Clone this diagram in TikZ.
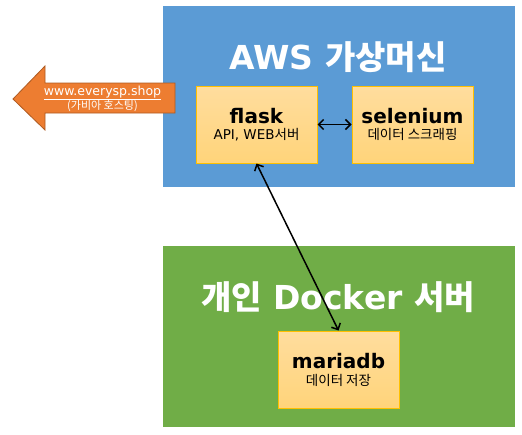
\documentclass[tikz,border=0pt]{standalone}
\usepackage{fontspec}
\setmainfont{DejaVu Sans}
\newfontfamily\kr{Noto Sans CJK KR}
\usetikzlibrary{positioning,arrows.meta}
\definecolor{awsblue}{HTML}{5B9BD5}
\definecolor{dockgreen}{HTML}{70AD47}
\definecolor{webor}{HTML}{ED7D31}
\definecolor{webordark}{HTML}{AE5A21}
\definecolor{boxtop}{HTML}{FFDD9E}
\definecolor{boxbot}{HTML}{FFD47A}
\definecolor{boxline}{HTML}{FFC000}
\tikzset{
  appbox/.style={draw=boxline, top color=boxtop, bottom color=boxbot, line width=1pt,
    minimum width=121pt, minimum height=77pt, align=center, inner sep=0pt,
    font=\fontsize{13.5}{16}\selectfont},
  areatitle/.style={text=white, font=\bfseries\fontsize{33}{35}\selectfont},
  link/.style={<->, line width=1.5pt, >={Straight Barb[length=5pt,width=10pt]}}
}
\newcommand{\apptitle}[1]{{\fontsize{20}{22}\selectfont\bfseries #1}}
\newcommand{\appnote}[1]{{\fontsize{13.5}{16}\selectfont #1}}
\begin{document}
\begin{tikzpicture}[x=1pt,y=-1pt]
    \useasboundingbox (0,0) rectangle (522,434);
    % server areas
    \fill[awsblue] (163,6) rectangle (515,187);
    \fill[dockgreen] (163,246) rectangle (515,427);
    \node[areatitle] (awstitle) at (338,57) {AWS {\kr 가상머신}};
    \node[areatitle] (docktitle) at (338,297) {{\kr 개인} Docker {\kr 서버}};
    % app boxes
    \node[appbox] (flask) at (256.5,124.5) {\apptitle{flask}\\\appnote{API, WEB{\kr 서버}}};
    \node[appbox, right=34pt of flask] (selenium) {\apptitle{selenium}\\\appnote{\kr 데이터 스크래핑}};
    \node[appbox] (mariadb) at (338.5,369.5) {\apptitle{mariadb}\\[1pt]\appnote{\kr 데이터 저장}};
    \draw[link] (flask) -- (selenium);
    \draw[link] (flask.south) -- (mariadb.north);
    % web link arrow
    \draw[fill=webor, draw=webordark, line width=0.8pt]
      (175,83) -- (45,83) -- (45,66) -- (13,99) -- (45,130) -- (45,113) -- (175,113) -- cycle;
    \node[text=white, align=center, inner sep=0pt, font=\fontsize{11}{14}\selectfont] (weblink) at (102.5,99)
      {{\fontsize{12.5}{13}\selectfont\underline{www.everysp.shop}}\\{\kr (가비아 호스팅)}};
\end{tikzpicture}
\end{document}
